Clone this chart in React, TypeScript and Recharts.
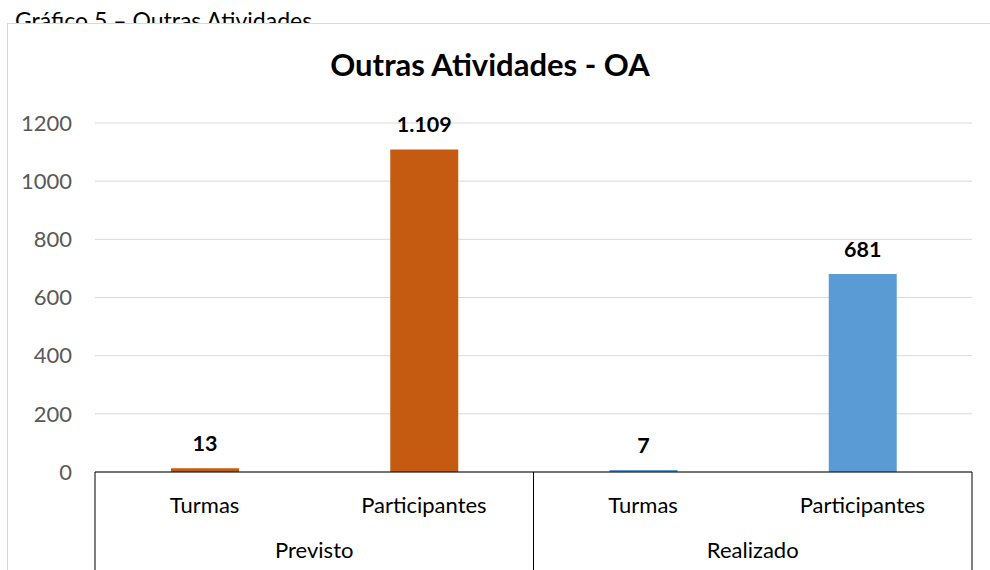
import React from 'react';
import { BarChart, Bar, XAxis, YAxis, CartesianGrid, Cell, LabelList } from 'recharts';

const categories = ['Turmas', 'Participantes', 'Turmas', 'Participantes'];
const groups = ['Previsto', 'Previsto', 'Realizado', 'Realizado'];
const values = [13, 1109, 7, 681];
const yTicks = [0, 200, 400, 600, 800, 1000, 1200];
const groupColors: Record<string, string> = { Previsto: '#C55A11', Realizado: '#5B9BD5' };

const data = categories.map((c, i) => ({ sub: c, group: groups[i], value: values[i] }));

const CHART_W = 982;
const CHART_H = 546;
const MARGIN = { top: 99, right: 18, left: 0, bottom: 0 };
const Y_W = 87;
const X_H = 98;
const PLOT_W = CHART_W - MARGIN.left - MARGIN.right - Y_W;
const HALF_BAND = PLOT_W / categories.length / 2;
const FONT = 'Lato, "Open Sans", sans-serif';

const fmt = (v: any) => String(v).replace(/\B(?=(\d{3})+(?!\d))/g, '.');

const SubTick = (props: any) => {
  const { x, y, payload, index } = props;
  const lines: number[] = [];
  if (index === 0) lines.push(x - HALF_BAND);
  if (index % 2 === 1) lines.push(x + HALF_BAND);
  return (
    <g>
      <text x={x} y={y + 41} textAnchor="middle" fill="#000" fontSize={22} fontFamily={FONT}>
        {payload.value}
      </text>
      {index % 2 === 0 && (
        <text x={x + HALF_BAND} y={y + 86} textAnchor="middle" fill="#000" fontSize={22} fontFamily={FONT}>
          {data[index].group}
        </text>
      )}
      {lines.map((lx, i) => (
        <line key={i} x1={lx} x2={lx} y1={y} y2={y + X_H + 10} stroke="#000" strokeWidth={1} />
      ))}
    </g>
  );
};

export default function App() {
  return (
    <div
      style={{
        position: 'fixed',
        left: 0,
        top: 0,
        width: 990,
        height: 570,
        overflow: 'hidden',
        background: '#fff',
        fontFamily: FONT,
      }}
    >
      <div
        style={{
          position: 'absolute',
          left: 15,
          top: 8,
          fontSize: 23,
          lineHeight: '24px',
          color: '#000',
          whiteSpace: 'nowrap',
        }}
      >
        Gráfico 5 – Outras Atividades
      </div>
      <div
        style={{
          position: 'absolute',
          left: 7,
          top: 23,
          width: 1000,
          height: 600,
          border: '1px solid #d9d9d9',
          background: '#fff',
        }}
      >
        <div
          style={{
            position: 'absolute',
            left: 0,
            top: 25,
            width: 964,
            textAlign: 'center',
            fontSize: 31,
            lineHeight: '31px',
            fontWeight: 700,
            color: '#000',
          }}
        >
          Outras Atividades - OA
        </div>
        <BarChart width={CHART_W} height={CHART_H} data={data} margin={MARGIN}>
          <CartesianGrid vertical={false} stroke="#d9d9d9" strokeWidth={1} />
          <XAxis
            dataKey="sub"
            height={X_H}
            axisLine={{ stroke: '#000', strokeWidth: 1 }}
            tickLine={false}
            tickSize={0}
            tickMargin={0}
            interval={0}
            tick={<SubTick />}
          />
          <YAxis
            width={Y_W}
            domain={[0, 1200]}
            ticks={yTicks}
            axisLine={false}
            tickLine={false}
            tickSize={0}
            tickMargin={23}
            tick={{ fill: '#595959', fontSize: 22, fontFamily: FONT }}
          />
          <Bar dataKey="value" barSize={68} isAnimationActive={false}>
            {data.map((d, i) => (
              <Cell key={i} fill={groupColors[d.group]} />
            ))}
            <LabelList
              dataKey="value"
              position="top"
              offset={17}
              formatter={fmt}
              fill="#000"
              style={{ fontWeight: 700, fontSize: 21.5, fontFamily: FONT }}
            />
          </Bar>
        </BarChart>
      </div>
    </div>
  );
}
